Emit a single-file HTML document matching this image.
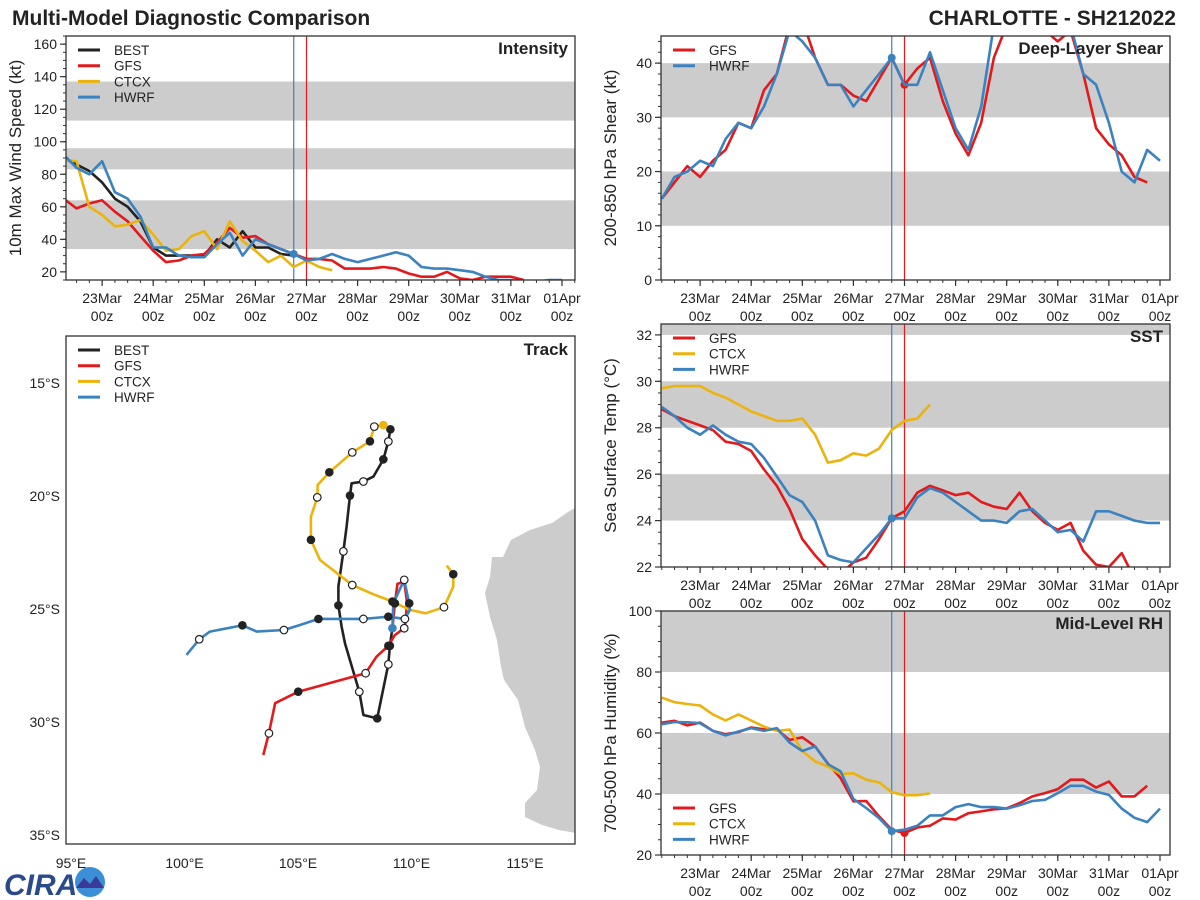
<!DOCTYPE html>
<html><head><meta charset="utf-8"><style>
body{margin:0;background:#fff;}
svg{display:block;font-family:"Liberation Sans","DejaVu Sans",sans-serif;}
</style></head><body>
<svg id="fig" width="1200" height="900" viewBox="0 0 1200 900">
<text x="12" y="25" font-size="21" font-weight="bold" fill="#222">Multi-Model Diagnostic Comparison</text>
<text x="1176" y="25" font-size="21" font-weight="bold" fill="#222" text-anchor="end">CHARLOTTE - SH212022</text>
<g>
<text x="4" y="895" font-size="30" font-weight="bold" fill="#2b4a8c" font-style="italic">CIRA</text>
<circle cx="90" cy="882" r="15" fill="#3a8fd6"/>
<path d="M76 888 L84 878 L90 884 L96 876 L104 888 Z" fill="#3a3a9a"/>
</g>
</svg>
<script>
const COL={BEST:"#222222",GFS:"#e31a1c",CTCX:"#ecb30c",HWRF:"#3a82c0"};
const dayLabels=["23Mar","24Mar","25Mar","26Mar","27Mar","28Mar","29Mar","30Mar","31Mar","01Apr"];
const dayTicks=[1,2,3,4,5,6,7,8,9,10];
const t0=0.25, dt=0.25;
// Intensity (kt)
const intBEST=[90,86,82,75,65,60,51,35,30,30,30,30,40,35,45,35,35,31,30];
const intGFS=[65,59,62,64,57,51,42,33,26,27,30,31,38,47,41,42,37,34,31,28,28,27,22,22,22,23,22,19,17,17,20,16,15,17,17,17,15];
const intCTCX=[89,88,60,55,48,49,52,43,33,34,42,45,34,51,39,33,26,30,23,27,23,21];
const intHWRF=[92,84,80,88,69,65,54,35,35,30,29,29,37,44,30,40,37,34,31,27,28,31,28,26,28,30,32,30,23,22,22,21,20,17,15,15,14,14,15,15];
const intTicks=[20,40,60,80,100,120,140,160];
// Shear (kt)
const shGFS=[15,18,21,19,22,24,29,28,35,38,47,48,41,36,36,34,33,37,41,36,39,41,33,27,23,29,41,47,50,48,46,44,46,38,28,25,23,19,18];
const shHWRF=[15,19,20,22,21,26,29,28,32,38,46,44,41,36,36,32,35,38,41,36,36,42,35,28,24,32,47,50,50,50,48,46,47,38,36,29,20,18,24,22];
const shTicks=[0,10,20,30,40];
// SST (C)
const sstGFS=[28.8,28.5,28.3,28.1,27.9,27.4,27.3,27.0,26.2,25.5,24.5,23.2,22.5,21.9,21.7,22.2,22.4,23.2,24.1,24.4,25.2,25.5,25.3,25.1,25.2,24.8,24.6,24.5,25.2,24.4,23.9,23.6,23.9,22.7,22.1,22.0,22.6,21.5];
const sstCTCX=[29.7,29.8,29.8,29.8,29.5,29.3,29.0,28.7,28.5,28.3,28.3,28.4,27.7,26.5,26.6,26.9,26.8,27.1,27.9,28.3,28.4,29.0];
const sstHWRF=[28.9,28.5,28.0,27.7,28.1,27.7,27.4,27.3,26.7,25.9,25.1,24.8,24.0,22.5,22.3,22.2,22.8,23.4,24.1,24.1,25.0,25.4,25.2,24.8,24.4,24.0,24.0,23.9,24.4,24.5,24.0,23.5,23.6,23.1,24.4,24.4,24.2,24.0,23.9,23.9];
const sstTicks=[22,24,26,28,30,32];
// RH (%)
const rhGFS=[63.4,64,62.5,63.4,60.7,59.6,60.3,61.8,61.2,61.2,57.7,58.6,55.6,50,45.2,37.6,37.7,32.7,28.3,27.2,29,29.6,32,31.6,33.7,34.3,35,35.3,37,39.2,40.3,41.6,44.7,44.7,42.1,44.1,39.2,39.2,42.7];
const rhCTCX=[71.6,70.1,69.5,69,66.1,64.1,66.1,64.1,62.1,60.7,61.1,54.1,50.7,49,46.6,46.8,44.7,43.8,40.6,39.6,39.6,40.2];
const rhHWRF=[62.9,63.6,63.5,63.2,60.7,59.2,60.5,61.6,60.7,61.6,56.9,54.1,55.6,49.8,47.4,38.4,35.4,32.1,27.8,28.3,29.6,33,33,35.7,36.7,35.7,35.7,35.2,36.3,37.7,38.1,40.3,42.7,42.7,40.8,39.7,35.2,32.2,30.8,35.2];
const rhTicks=[20,40,60,80,100];
// Track (lon E, lat S)
const bestLon=[109.07,108.98,108.76,108.32,107.88,107.36,107.29,107.14,107.00,106.78,106.78,106.92,107.07,107.70,107.88,108.49,108.98,109.05,109.16];
const bestLat=[17.05,17.59,18.38,19.14,19.36,19.44,19.98,21.35,22.45,24.01,24.84,25.78,26.52,28.66,29.69,29.84,27.45,26.63,25.85];
const bestMk="fof-o-f-o-f--o-fof-";
const gfsLon=[109.16,109.27,109.38,109.68,109.79,109.76,109.68,109.27,108.98,108.46,107.98,105.01,103.99,103.72,103.47];
const gfsLat=[25.85,24.75,23.89,23.79,24.60,25.48,25.85,26.15,26.63,27.11,27.84,28.66,29.17,30.50,31.46];
const gfsMk="-f----o-f-of-o-";
const hwrfLon=[109.16,109.20,109.68,109.90,109.93,109.71,108.98,107.88,105.90,105.09,104.38,103.18,102.55,101.12,100.65,100.09];
const hwrfLat=[25.85,24.75,23.71,24.75,25.04,25.44,25.34,25.44,25.44,25.71,25.93,26.00,25.72,26.00,26.34,27.03];
const hwrfMk="c-of-ofof-o-f-o-";
const ctcxLon=[108.76,108.36,108.17,107.39,106.38,105.87,105.85,105.57,105.57,105.97,107.39,108.32,109.16,109.93,110.62,111.43,111.84,111.84,111.55];
const ctcxLat=[16.86,16.93,17.58,18.07,18.95,19.51,20.06,20.91,21.94,22.83,23.94,24.35,24.67,25.04,25.19,24.92,24.01,23.46,23.08];
const ctcxMk="cofof-o-f-o-f--o-f-";
const lonTicks=[95,100,105,110,115];
const latTicks=[15,20,25,30,35];

const NS="http://www.w3.org/2000/svg";
const fig=document.getElementById('fig');
function el(tag,attrs,parent){const e=document.createElementNS(NS,tag);for(const k in attrs)e.setAttribute(k,attrs[k]);(parent||fig).appendChild(e);return e;}
let clipN=0;

function panel(p){
  const g=el('g',{});
  
  
  const X=t=>p.x0+51.1*t;
  const Y=v=>p.bottom-(v-p.ymin)*(p.bottom-p.top)/(p.ymax-p.ymin);
  p.bands.forEach(b=>{
    const r=el('rect',{x:p.left,y:Y(Math.min(b[1],p.ymax)),width:p.right-p.left,height:Y(b[0])-Y(Math.min(b[1],p.ymax)),fill:'#cccccc'},g);
    
    
  });
  const cid='c'+(clipN++);
  const cp=el('clipPath',{id:cid},g);el('rect',{x:p.left,y:p.top,width:p.right-p.left,height:p.bottom-p.top},cp);
  const vb=el('line',{x1:X(4.75),x2:X(4.75),y1:p.top,y2:p.bottom,stroke:COL.HWRF,'stroke-width':1.2},g);
  
  
  const vr=el('line',{x1:X(5),x2:X(5),y1:p.top,y2:p.bottom,stroke:COL.GFS,'stroke-width':1.2},g);
  
  
  p.series.forEach(s=>{
    const pts=s.v.map((v,i)=>X(t0+i*dt).toFixed(1)+','+Y(v).toFixed(1)).join(' ');
    const pl=el('polyline',{points:pts,fill:'none',stroke:COL[s.k],'stroke-width':2.6,'stroke-linejoin':'round','clip-path':'url(#'+cid+')'},g);
    
    
    if(s.dot!==undefined){
      const c=el('circle',{cx:X(t0+s.dot*dt),cy:Y(s.v[s.dot]),r:4,fill:COL[s.k],'clip-path':'url(#'+cid+')'},g);
      
      
    }
  });
  el('rect',{x:p.left,y:p.top,width:p.right-p.left,height:p.bottom-p.top,fill:'none',stroke:'#333','stroke-width':1.3},g);
  // y ticks
  for(let v=p.ymin;v<=p.ymax+1e-6;v+=p.minor){ if(Math.abs(v/p.minor-Math.round(v/p.minor))>1e-6)continue; el('line',{x1:p.left-3,x2:p.left,y1:Y(v),y2:Y(v),stroke:'#333'},g);}
  p.ticks.forEach(v=>{
    el('line',{x1:p.left-6,x2:p.left,y1:Y(v),y2:Y(v),stroke:'#333','stroke-width':1.2},g);
    const t=el('text',{x:p.left-9,y:Y(v)+5,'font-size':14,'text-anchor':'end',fill:'#222'},g);t.textContent=v;
    
    
  });
  // x ticks
  for(let q=Math.ceil(((p.left-p.x0)/51.1)/0.25)*0.25;X(q)<=p.right;q+=0.25) el('line',{x1:X(q),x2:X(q),y1:p.bottom,y2:p.bottom+3,stroke:'#333'},g);
  dayTicks.forEach((d,i)=>{
    el('line',{x1:X(d),x2:X(d),y1:p.bottom,y2:p.bottom+6,stroke:'#333','stroke-width':1.2},g);
    const a=el('text',{x:X(d),y:p.bottom+23,'font-size':14,'text-anchor':'middle',fill:'#222'},g);a.textContent=dayLabels[i];
    
    
    const b=el('text',{x:X(d),y:p.bottom+41,'font-size':14,'text-anchor':'middle',fill:'#222'},g);b.textContent='00z';
    
    
  });
  const yl=el('text',{x:0,y:0,'font-size':17,'text-anchor':'middle',fill:'#222',transform:`translate(${p.left-45},${(p.top+p.bottom)/2}) rotate(-90)`},g);
  yl.textContent=p.ylabel;
  
  
  const tt=el('text',{x:p.right-7,y:p.top+18,'font-size':17,'font-weight':'bold','text-anchor':'end',fill:'#222'},g);tt.textContent=p.title;
  
  
  legend(g,p.left+12,p.legY,p.series.map(s=>s.k));
}
function legend(g,x,y,keys){
  keys.forEach((k,i)=>{
    const lg=el('g',{},g);
    
    
    el('line',{x1:x,x2:x+22,y1:y+i*15.7,y2:y+i*15.7,stroke:COL[k],'stroke-width':3},lg);
    const t=el('text',{x:x+36,y:y+i*15.7+5,'font-size':13.5,fill:'#222'},lg);t.textContent=k;
  });
}
panel({name:'intensity-panel',left:66,right:575,top:36,bottom:280,x0:51,ymin:15,ymax:165,ticks:intTicks,minor:5,bands:[[34,64],[83,96],[113,137]],
  ylabel:'10m Max Wind Speed (kt)',title:'Intensity',legY:50,
  series:[{k:'BEST',v:intBEST},{k:'GFS',v:intGFS},{k:'CTCX',v:intCTCX},{k:'HWRF',v:intHWRF,dot:18}]});
panel({name:'shear-panel',left:661,right:1170,top:36,bottom:280,x0:649,ymin:0,ymax:45,ticks:shTicks,minor:2,bands:[[10,20],[30,40]],
  ylabel:'200-850 hPa Shear (kt)',title:'Deep-Layer Shear',legY:50,
  series:[{k:'GFS',v:shGFS,dot:19},{k:'HWRF',v:shHWRF,dot:18}]});
panel({name:'sst-panel',left:661,right:1170,top:324,bottom:567,x0:649,ymin:22,ymax:32.47,ticks:sstTicks,minor:0.5,bands:[[24,26],[28,30],[32,33]],
  ylabel:'Sea Surface Temp (°C)',title:'SST',legY:338,
  series:[{k:'GFS',v:sstGFS},{k:'CTCX',v:sstCTCX},{k:'HWRF',v:sstHWRF,dot:18}]});
panel({name:'rh-panel',left:661,right:1170,top:611,bottom:855,x0:649,ymin:20,ymax:100,ticks:rhTicks,minor:5,bands:[[40,60],[80,100]],
  ylabel:'700-500 hPa Humidity (%)',title:'Mid-Level RH',legY:808,
  series:[{k:'GFS',v:rhGFS,dot:19},{k:'CTCX',v:rhCTCX},{k:'HWRF',v:rhHWRF,dot:18}]});

// Track map
(function(){
  const g=el('g',{});
  
  
  const L=66,R=575,T=336,B=844;
  const X=lon=>71+(lon-95)*22.7;
  const Y=lat=>383+(lat-15)*22.6;
  const cp=el('clipPath',{id:'trk'},g);el('rect',{x:L,y:T,width:R-L,height:B-T},cp);
  const land=el('path',{d:'M575 508 L568 512 L552 523 L530 530 L511 540 L503 557 L492 557 L490 577 L485 593 L490 617 L497 640 L501 667 L504 680 L518 700 L525 727 L535 750 L540 767 L537 790 L525 803 L525 817 L542 825 L559 830 L576 833 Z',fill:'#cccccc','clip-path':'url(#trk)'},g);
  
  
  const tracks=[['BEST',bestLon,bestLat,bestMk],['GFS',gfsLon,gfsLat,gfsMk],['CTCX',ctcxLon,ctcxLat,ctcxMk],['HWRF',hwrfLon,hwrfLat,hwrfMk]];
  tracks.forEach(tr=>{
    const pts=tr[1].map((lo,i)=>X(lo).toFixed(1)+','+Y(tr[2][i]).toFixed(1)).join(' ');
    const pl=el('polyline',{points:pts,fill:'none',stroke:COL[tr[0]],'stroke-width':2.6,'stroke-linejoin':'round','clip-path':'url(#trk)'},g);
    
    
  });
  tracks.forEach(tr=>{
    tr[1].forEach((lo,i)=>{
      const m=tr[3][i];
      if(!m||m==='-')return;
      const attrs={cx:X(lo),cy:Y(tr[2][i]),r:m==='o'?3.8:4.3};
      if(m==='f'){attrs.fill='#222';}
      else if(m==='o'){attrs.fill='#fff';attrs.stroke='#222';attrs['stroke-width']=1.2;}
      else {attrs.fill=COL[tr[0]];}
      const c=el('circle',attrs,g);
      
      
    });
  });
  el('rect',{x:L,y:T,width:R-L,height:B-T,fill:'none',stroke:'#333','stroke-width':1.3},g);
  lonTicks.forEach(v=>{const t=el('text',{x:X(v),y:B+24,'font-size':14,'text-anchor':'middle',fill:'#222'},g);t.textContent=v+'°E';
    
    });
  latTicks.forEach(v=>{const t=el('text',{x:L-6,y:Y(v)+5,'font-size':14,'text-anchor':'end',fill:'#222'},g);t.textContent=v+'°S';
    
    });
  const tt=el('text',{x:R-7,y:T+19,'font-size':17,'font-weight':'bold','text-anchor':'end',fill:'#222'},g);tt.textContent='Track';
  
  
  legend(g,L+12,T+14,['BEST','GFS','CTCX','HWRF']);
})();
</script>
</body></html>
